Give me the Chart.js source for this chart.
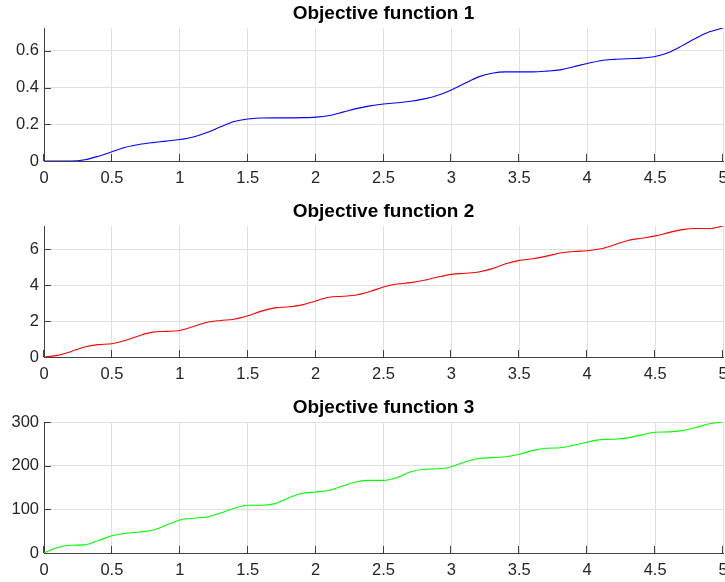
<!DOCTYPE html>
<html>
<head>
<meta charset="utf-8">
<script src="https://cdn.jsdelivr.net/npm/chart.js@4"></script>
<style>
  html, body { margin: 0; padding: 0; background: #fff; }
  #wrap { position: relative; width: 725px; height: 582px; overflow: hidden; }
  canvas { position: absolute; left: 0; }
</style>
</head>
<body>
<div id="wrap">
  <canvas id="c1" width="725" height="197" style="top:0px"></canvas>
  <canvas id="c2" width="725" height="196" style="top:198px"></canvas>
  <canvas id="c3" width="725" height="188" style="top:394px"></canvas>
</div>
<script>
const titles = ['Objective function 1', 'Objective function 2', 'Objective function 3'];
const xValues = [0,0.1,0.2,0.3,0.4,0.5,0.6,0.7,0.8,0.9,1,1.1,1.2,1.3,1.4,1.5,1.6,1.7,1.8,1.9,2,2.1,2.2,2.3,2.4,2.5,2.6,2.7,2.8,2.9,3,3.1,3.2,3.3,3.4,3.5,3.6,3.7,3.8,3.9,4,4.1,4.2,4.3,4.4,4.5,4.6,4.7,4.8,4.9,5];
const xTickLabels = ['0','0.5','1','1.5','2','2.5','3','3.5','4','4.5','5'];

const obj1 = [0,0,0,0.007,0.026,0.050,0.075,0.090,0.100,0.108,0.117,
  0.131,0.155,0.186,0.215,0.229,0.234,0.235,0.235,0.236,0.239,
  0.248,0.266,0.285,0.300,0.310,0.317,0.325,0.338,0.358,0.387,
  0.423,0.458,0.478,0.485,0.485,0.485,0.489,0.496,0.513,0.531,
  0.546,0.553,0.557,0.560,0.569,0.591,0.628,0.668,0.703,0.724];
const obj2 = [0,0.09,0.31,0.56,0.69,0.74,0.93,1.19,1.39,1.43,1.48,
  1.70,1.94,2.04,2.11,2.30,2.56,2.74,2.80,2.91,3.13,
  3.33,3.39,3.46,3.65,3.91,4.07,4.15,4.28,4.46,4.61,
  4.67,4.74,4.93,5.20,5.39,5.48,5.63,5.80,5.89,5.93,
  6.04,6.26,6.50,6.63,6.76,6.94,7.11,7.17,7.17,7.31];
const obj3 = [0,13,18,19,29,40,46,49,53,65,77,
  81,84,93,104,111,111,115,128,139,142,
  146,156,166,169,169,176,189,195,196,201,
  212,220,222,224,230,239,244,245,251,258,
  264,265,268,275,281,282,285,292,301,305];

const yTickLabels1 = ['0','0.2','0.4','0.6'];
const yTickLabels2 = ['0','2','4','6'];
const yTickLabels3 = ['0','100','200','300'];

const FONT = "'Liberation Sans', Arial, Helvetica, sans-serif";
const axisColor = '#404040';
const gridColor = '#e0e0e0';
const textColor = '#262626';

const inwardTicks = {
  id: 'inwardTicks',
  afterLayout(chart) {
    const t = chart.titleBlock;
    if (t) {
      t.left = chart.chartArea.left;
      t.right = chart.chartArea.right;
      t.width = t.right - t.left;
    }
  },
  afterDraw(chart) {
    const { ctx, chartArea: a, scales: { x, y } } = chart;
    ctx.save();
    ctx.strokeStyle = axisColor;
    ctx.lineWidth = 1;
    ctx.beginPath();
    x.ticks.forEach(t => {
      const px = Math.round(x.getPixelForValue(t.value)) - 0.5;
      ctx.moveTo(px, a.bottom);
      ctx.lineTo(px, a.bottom - 7);
    });
    y.ticks.forEach(t => {
      const py = Math.round(y.getPixelForValue(t.value)) + 0.5;
      ctx.moveTo(a.left, py);
      ctx.lineTo(a.left + 7, py);
    });
    ctx.stroke();
    ctx.restore();
  }
};

function makeChart(id, title, values, color, step, yLabels, xHeight) {
  return new Chart(document.getElementById(id), {
    type: 'line',
    data: {
      datasets: [{
        data: xValues.map((xv, i) => ({ x: xv, y: values[i] })),
        borderColor: color,
        borderWidth: 1.1,
        pointRadius: 0,
        fill: false,
        cubicInterpolationMode: 'monotone'
      }]
    },
    options: {
      responsive: false,
      animation: false,
      devicePixelRatio: 1,
      layout: { padding: { left: 0, right: 2, top: 0, bottom: 0 } },
      plugins: {
        legend: { display: false },
        tooltip: { enabled: false },
        title: {
          display: true,
          text: title,
          color: '#000',
          font: { family: FONT, size: 19, weight: 'bold', lineHeight: 1 },
          padding: { top: 4, bottom: 5 }
        }
      },
      scales: {
        x: {
          type: 'linear',
          min: 0, max: 5,
          border: { display: true, color: axisColor, width: 1 },
          grid: { color: gridColor, drawTicks: false, lineWidth: 1 },
          ticks: {
            stepSize: 0.5,
            autoSkip: false,
            maxRotation: 0,
            padding: 8,
            color: textColor,
            font: { family: FONT, size: 16.5 },
            callback: (v, i) => xTickLabels[i]
          },
          afterFit(s) { s.height = xHeight; s.paddingLeft = 0; s.paddingRight = 0; }
        },
        y: {
          type: 'linear',
          min: 0, max: Math.max(...values),
          border: { display: true, color: axisColor, width: 1 },
          grid: { color: gridColor, drawTicks: false, lineWidth: 1 },
          ticks: {
            stepSize: step,
            includeBounds: false,
            padding: 5,
            color: textColor,
            font: { family: FONT, size: 16.5 },
            callback: (v, i) => yLabels[i]
          },
          afterFit(s) { s.width = 44; s.paddingTop = 0; s.paddingBottom = 0; }
        }
      }
    },
    plugins: [inwardTicks]
  });
}

makeChart('c1', titles[0], obj1, '#0000ff', 0.2, yTickLabels1, 36);
makeChart('c2', titles[1], obj2, '#ff0000', 2, yTickLabels2, 37);
makeChart('c3', titles[2], obj3, '#00ff00', 100, yTickLabels3, 29);
</script>
</body>
</html>
